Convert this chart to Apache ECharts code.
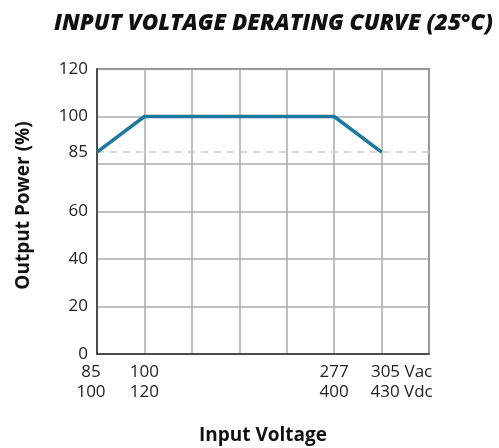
<!DOCTYPE html>
<html>
<head>
<meta charset="utf-8">
<script src="https://cdn.jsdelivr.net/npm/echarts@6/dist/echarts.min.js"></script>
<style>
  html, body { margin: 0; padding: 0; background: #fff; }
  #chart { width: 499px; height: 448px; }
</style>
</head>
<body>
<div id="chart"></div>
<script>
// x positions: AC voltage on top row, DC voltage below
const acLabels = ['85', '100', '', '', '', '277', '305', ''];
const dcLabels = ['100', '120', '', '', '', '400', '430', ''];
const outputPower = [85, 100, 100, 100, 100, 100, 85, null];
const yTicks = [0, 20, 40, 60, 100, 120];
const deratedLevel = 85;

const chart = echarts.init(document.getElementById('chart'));
const font = '"Open Sans", sans-serif';

const options = {
  animation: false,
  title: {
    text: 'INPUT VOLTAGE DERATING CURVE (25°C)',
    left: 49,
    top: 7,
    textStyle: {
      fontFamily: font,
      fontSize: 22.5,
      fontStyle: 'italic',
      fontWeight: 800,
      color: '#111'
    }
  },
  grid: {
    left: 97,
    right: 70,
    top: 69,
    bottom: 94,
    outerBoundsMode: 'none',
    show: true,
    borderColor: '#333',
    borderWidth: 1.5
  },
  xAxis: {
    type: 'category',
    boundaryGap: false,
    data: acLabels.map((a, i) => i),
    name: 'Input Voltage',
    nameLocation: 'middle',
    nameGap: 72,
    nameTextStyle: { fontFamily: font, fontSize: 19, fontWeight: 'bold', color: '#111' },
    axisLine: { lineStyle: { color: '#333', width: 1.5 } },
    axisTick: { show: false },
    axisLabel: {
      interval: 0,
      margin: 8,
      fontFamily: font,
      fontSize: 17,
      lineHeight: 20,
      color: '#222',
      formatter: (v, i) => {
        if (!acLabels[i]) return '';
        if (i === 0) return '{f|' + acLabels[i] + '}\n{f|' + dcLabels[i] + '}';
        if (i === 6) return '{u|' + acLabels[i] + ' Vac}\n{u|' + dcLabels[i] + ' Vdc}';
        return acLabels[i] + '\n' + dcLabels[i];
      },
      rich: {
        f: { fontFamily: font, fontSize: 17, lineHeight: 20, color: '#222', padding: [0, 12, 0, 0] },
        u: { fontFamily: font, fontSize: 17, lineHeight: 20, color: '#222', padding: [0, 0, 0, 40] }
      }
    },
    splitLine: { show: true, interval: 0, lineStyle: { color: '#aaa', width: 1.5 } }
  },
  yAxis: {
    type: 'value',
    min: 0,
    max: 120,
    interval: 20,
    name: 'Output Power (%)',
    nameLocation: 'middle',
    nameGap: 64,
    nameTextStyle: { fontFamily: font, fontSize: 19, fontWeight: 'bold', color: '#111', padding: [0, 0, 0, 12] },
    axisLine: { show: true, lineStyle: { color: '#333', width: 1.5 } },
    axisTick: { show: false },
    axisLabel: {
      margin: 9,
      fontFamily: font,
      fontSize: 17,
      color: '#222',
      formatter: v => (yTicks.includes(v) ? String(v) : '')
    },
    splitLine: { lineStyle: { color: '#aaa', width: 1.5 } }
  },
  series: [
    {
      type: 'line',
      data: outputPower,
      symbol: 'none',
      lineStyle: { color: '#1b7a9c', width: 3.5 },
      z: 5,
      markLine: {
        silent: true,
        symbol: 'none',
        lineStyle: { color: '#ccc', type: [7, 6], width: 1.5 },
        label: {
          position: 'start',
          distance: 9,
          formatter: String(deratedLevel),
          fontFamily: font,
          fontSize: 17,
          color: '#222'
        },
        data: [{ yAxis: deratedLevel }]
      }
    }
  ]
};

chart.setOption(options);
</script>
</body>
</html>
